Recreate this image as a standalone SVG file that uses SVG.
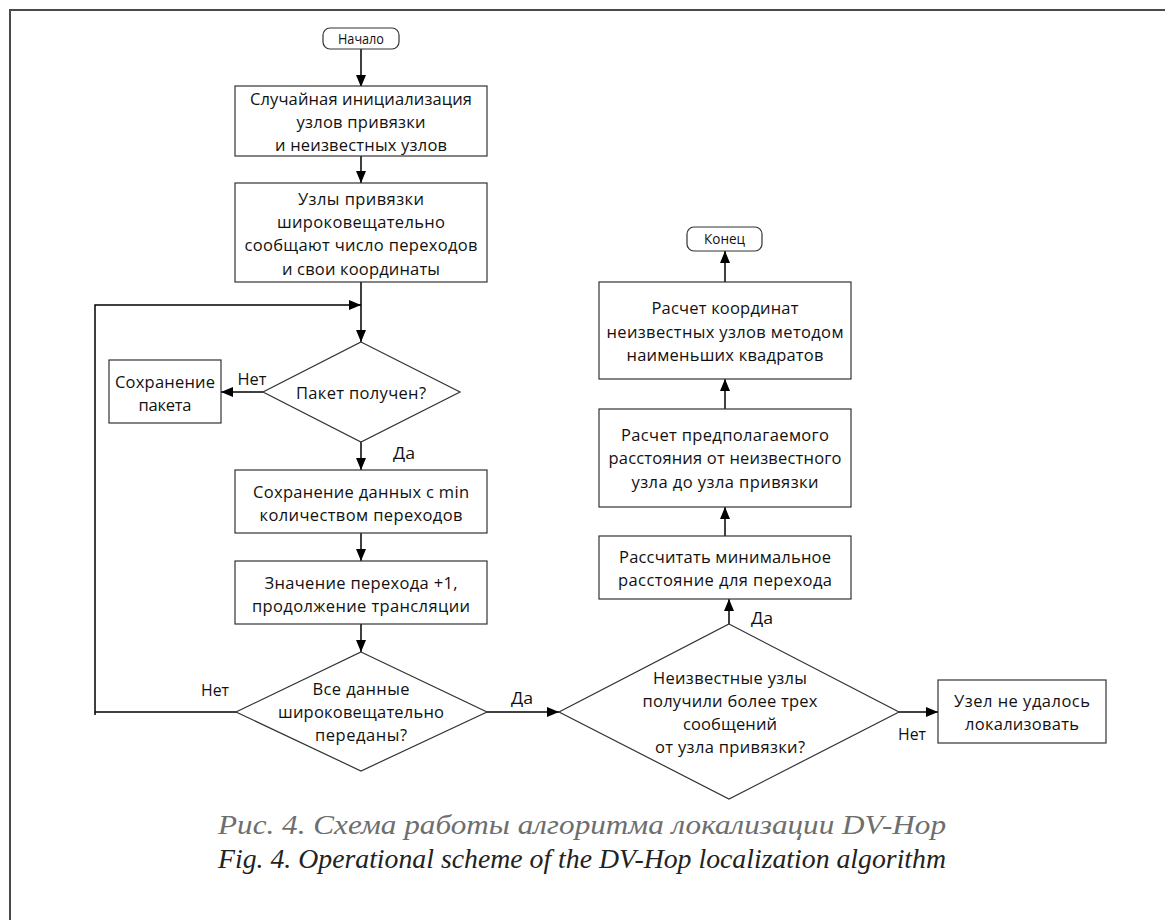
<svg xmlns="http://www.w3.org/2000/svg" width="1165" height="920" viewBox="0 0 1165 920">
  <defs>
    <marker id="arrow" markerUnits="userSpaceOnUse" markerWidth="12" markerHeight="10" refX="12" refY="5" orient="auto">
      <path d="M0,0 L12,5 L0,10 z" fill="#000"/>
    </marker>
    <style>
      .frame { fill: none; stroke: #4a4a4a; stroke-width: 2; }
      .box { fill: #fff; stroke: #333; stroke-width: 1.2; }
      .edge { fill: none; stroke: #000; stroke-width: 1.5; }
      .arr { marker-end: url(#arrow); }
      text { font-family: "Open Sans", "Noto Sans", sans-serif; font-size: 16.5px; fill: #111; text-anchor: middle; }
      .term { font-size: 14px; }
      .cap1 { font-family: "Liberation Serif", serif; font-style: italic; font-size: 27px; fill: #6e6e6e; }
      .cap2 { font-family: "Liberation Serif", serif; font-style: italic; font-size: 27px; fill: #222; }
    </style>
  </defs>

  <!-- page frame -->
  <path class="frame" d="M10,920 V10 H1165"/>

  <!-- connectors -->
  <g id="connectors">
    <path class="edge arr" d="M361,49 V87"/>
    <path class="edge arr" d="M361,156 V183"/>
    <path class="edge arr" d="M361,282 V342"/>
    <path class="edge" d="M236,712 H95"/>
    <path class="edge arr" d="M95,715 V305 H361"/>
    <path class="edge arr" d="M263,392 H221"/>
    <path class="edge arr" d="M361,442 V470"/>
    <path class="edge arr" d="M361,533 V561"/>
    <path class="edge arr" d="M361,624 V652"/>
    <path class="edge arr" d="M487,712 H559"/>
    <path class="edge arr" d="M899,712 H938"/>
    <path class="edge arr" d="M729,624 V599"/>
    <path class="edge arr" d="M725,536 V507"/>
    <path class="edge arr" d="M725,409 V379"/>
    <path class="edge arr" d="M725,282 V251"/>
    <text x="252" y="385" textLength="29" lengthAdjust="spacingAndGlyphs">Нет</text>
    <text x="404" y="459" textLength="22" lengthAdjust="spacingAndGlyphs">Да</text>
    <text x="215" y="696" textLength="28" lengthAdjust="spacingAndGlyphs">Нет</text>
    <text x="522" y="704" textLength="22" lengthAdjust="spacingAndGlyphs">Да</text>
    <text x="762" y="624" textLength="22" lengthAdjust="spacingAndGlyphs">Да</text>
    <text x="912" y="740" textLength="28" lengthAdjust="spacingAndGlyphs">Нет</text>
  </g>

  <g id="start">
    <rect class="box" x="323" y="28" width="76" height="21" rx="7"/>
    <text class="term" x="361" y="44" textLength="46" lengthAdjust="spacingAndGlyphs">Начало</text>
  </g>

  <g id="init">
    <rect class="box" x="235" y="86" width="252" height="70"/>
    <text x="361" y="104.5" textLength="222" lengthAdjust="spacing">Случайная инициализация</text>
    <text x="361" y="128" textLength="129" lengthAdjust="spacing">узлов привязки</text>
    <text x="361" y="151" textLength="172" lengthAdjust="spacing">и неизвестных узлов</text>
  </g>

  <g id="broadcast">
    <rect class="box" x="235" y="183" width="252" height="99"/>
    <text x="361" y="204.5" textLength="126" lengthAdjust="spacing">Узлы привязки</text>
    <text x="361" y="228" textLength="168" lengthAdjust="spacing">широковещательно</text>
    <text x="361" y="251" textLength="233" lengthAdjust="spacing">сообщают число переходов</text>
    <text x="361" y="274.5" textLength="158" lengthAdjust="spacing">и свои координаты</text>
  </g>

  <g id="received">
    <polygon class="box" points="361,342 460,392 361,442 263,392"/>
    <text x="361" y="398.5" textLength="130" lengthAdjust="spacing">Пакет получен?</text>
  </g>

  <g id="save-packet">
    <rect class="box" x="109" y="360" width="112" height="63"/>
    <text x="165" y="387.5" textLength="100" lengthAdjust="spacing">Сохранение</text>
    <text x="165" y="410.5" textLength="53" lengthAdjust="spacing">пакета</text>
  </g>

  <g id="save-min">
    <rect class="box" x="235" y="470" width="252" height="63"/>
    <text x="361" y="497.5" textLength="216" lengthAdjust="spacing">Сохранение данных с min</text>
    <text x="361" y="520.5" textLength="203" lengthAdjust="spacing">количеством переходов</text>
  </g>

  <g id="increment">
    <rect class="box" x="235" y="561" width="252" height="63"/>
    <text x="361" y="588.5" textLength="193" lengthAdjust="spacing">Значение перехода +1,</text>
    <text x="361" y="611.5" textLength="218" lengthAdjust="spacing">продолжение трансляции</text>
  </g>

  <g id="all-sent">
    <polygon class="box" points="361,652 487,712 361,771 236,712"/>
    <text x="361" y="694.5" textLength="97" lengthAdjust="spacing">Все данные</text>
    <text x="361" y="717.5" textLength="166" lengthAdjust="spacing">широковещательно</text>
    <text x="361" y="740.5" textLength="92" lengthAdjust="spacing">переданы?</text>
  </g>

  <g id="enough-msgs">
    <polygon class="box" points="729,624 899,712 729,799 559,712"/>
    <text x="730" y="683.5" textLength="154" lengthAdjust="spacing">Неизвестные узлы</text>
    <text x="730" y="706.5" textLength="175" lengthAdjust="spacing">получили более трех</text>
    <text x="730" y="729.5" textLength="94" lengthAdjust="spacing">сообщений</text>
    <text x="730" y="752.5" textLength="150" lengthAdjust="spacing">от узла привязки?</text>
  </g>

  <g id="not-localized">
    <rect class="box" x="938" y="680" width="168" height="63"/>
    <text x="1022" y="706.5" textLength="136" lengthAdjust="spacing">Узел не удалось</text>
    <text x="1022" y="729.5" textLength="114" lengthAdjust="spacing">локализовать</text>
  </g>

  <g id="min-distance">
    <rect class="box" x="599" y="536" width="252" height="63"/>
    <text x="725" y="562.5" textLength="212" lengthAdjust="spacing">Рассчитать минимальное</text>
    <text x="725" y="585.5" textLength="214" lengthAdjust="spacing">расстояние для перехода</text>
  </g>

  <g id="est-distance">
    <rect class="box" x="599" y="409" width="252" height="98"/>
    <text x="725" y="440.5" textLength="208" lengthAdjust="spacing">Расчет предполагаемого</text>
    <text x="725" y="463.5" textLength="233" lengthAdjust="spacing">расстояния от неизвестного</text>
    <text x="725" y="487.5" textLength="187" lengthAdjust="spacing">узла до узла привязки</text>
  </g>

  <g id="least-squares">
    <rect class="box" x="599" y="282" width="252" height="97"/>
    <text x="725" y="313.5" textLength="147" lengthAdjust="spacing">Расчет координат</text>
    <text x="725" y="337.5" textLength="237" lengthAdjust="spacing">неизвестных узлов методом</text>
    <text x="725" y="360.5" textLength="197" lengthAdjust="spacing">наименьших квадратов</text>
  </g>

  <g id="end">
    <rect class="box" x="687" y="227" width="75" height="24" rx="7"/>
    <text class="term" x="724.5" y="244" textLength="41" lengthAdjust="spacingAndGlyphs">Конец</text>
  </g>

  <!-- figure caption -->
  <text class="cap1" x="582" y="834" textLength="728" lengthAdjust="spacingAndGlyphs">Рис. 4. Схема работы алгоритма локализации DV-Hop</text>
  <text class="cap2" x="582" y="868" textLength="728" lengthAdjust="spacingAndGlyphs">Fig. 4. Operational scheme of the DV-Hop localization algorithm</text>
</svg>
